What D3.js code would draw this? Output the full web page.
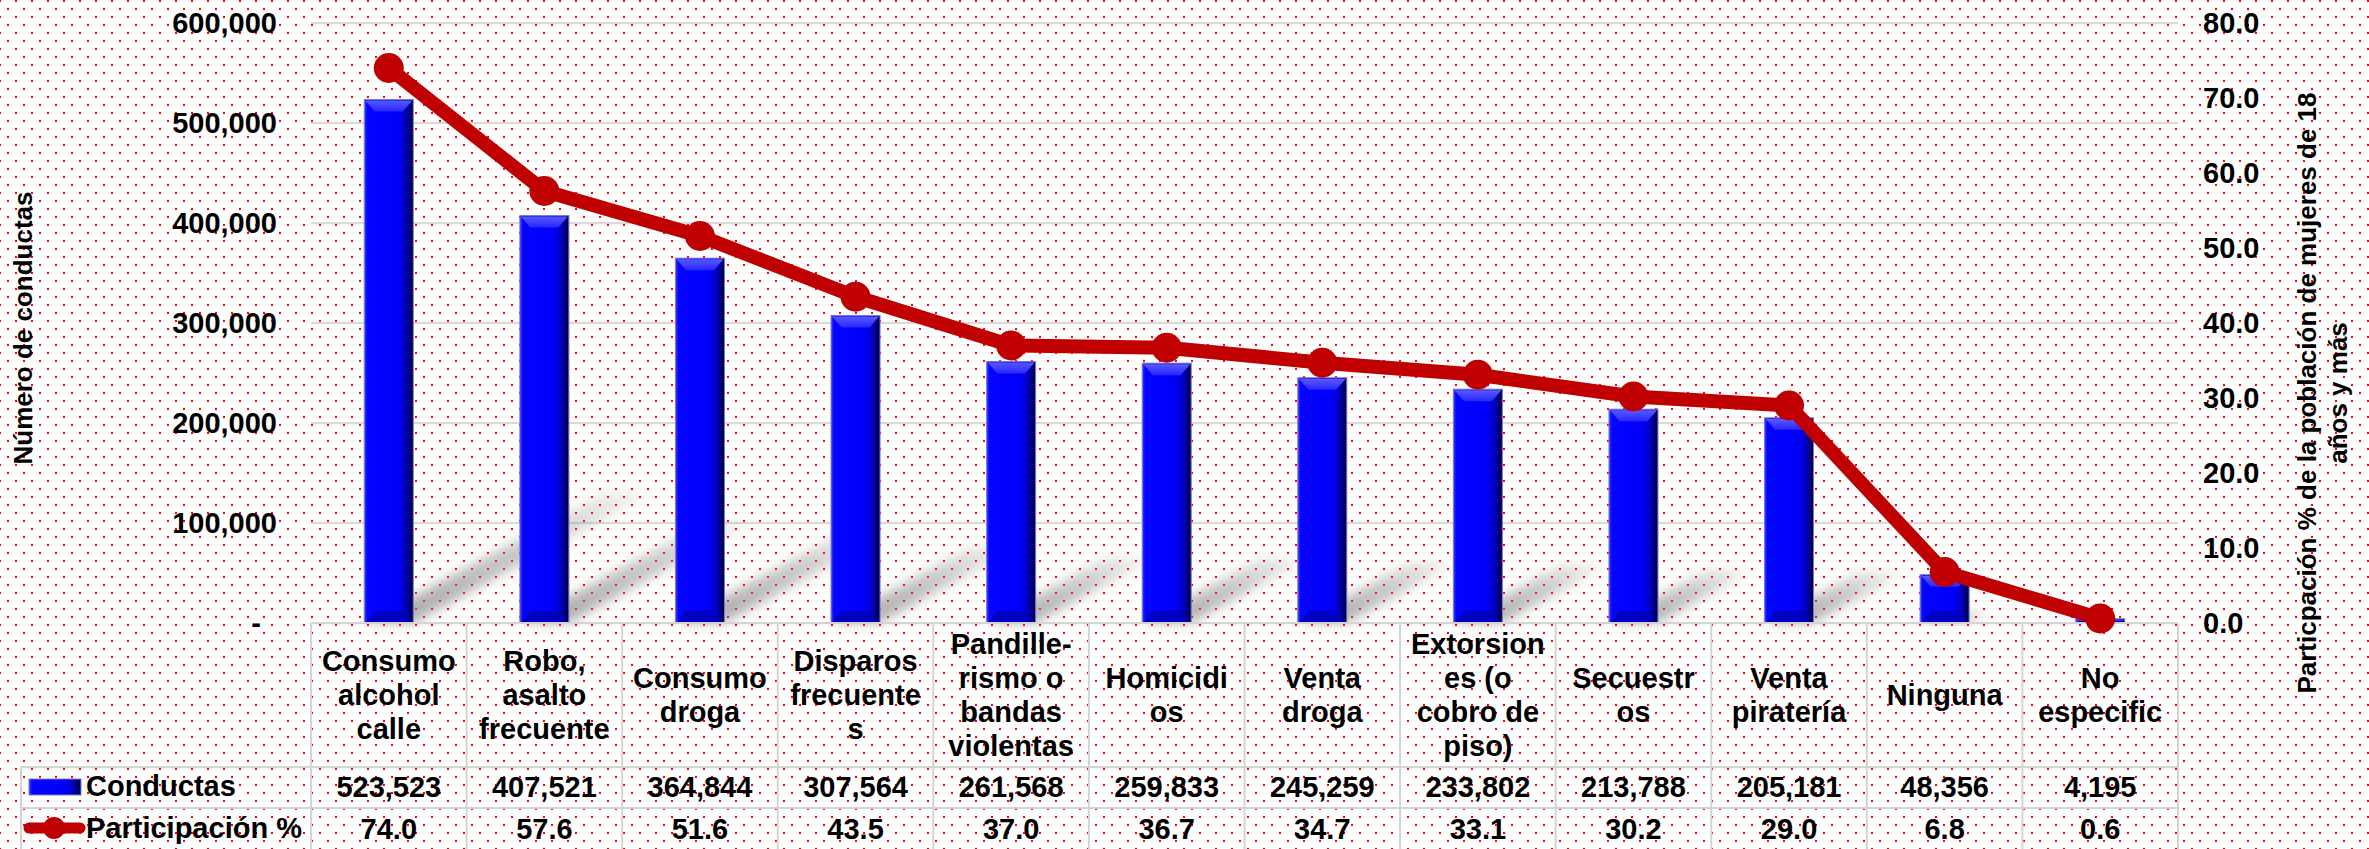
<!DOCTYPE html>
<html>
<head>
<meta charset="utf-8">
<script src="https://cdn.jsdelivr.net/npm/d3@7"></script>
<style>
body { margin:0; background:#fff; }
text { font-family:"Liberation Sans", Arial, sans-serif; font-weight:bold; fill:#000; }
.tick text, .celda, .leyenda { font-size:29px; }
.titulo { font-size:26px; }
</style>
</head>
<body>
<div id="grafica"></div>
<script>
// datos
var categorias = ["Consumo alcohol calle", "Robo, asalto frecuente", "Consumo droga", "Disparos frecuentes",
    "Pandillerismo o bandas violentas", "Homicidios", "Venta droga", "Extorsiones (o cobro de piso)",
    "Secuestros", "Venta piratería", "Ninguna", "No especific"];
// como se parten los textos en la tabla
var etiquetas = [["Consumo","alcohol","calle"], ["Robo,","asalto","frecuente"], ["Consumo","droga"],
    ["Disparos","frecuente","s"], ["Pandille-","rismo o","bandas","violentas"], ["Homicidi","os"],
    ["Venta","droga"], ["Extorsion","es (o","cobro de","piso)"], ["Secuestr","os"],
    ["Venta","piratería"], ["Ninguna"], ["No","especific"]];
var conductas = [523523, 407521, 364844, 307564, 261568, 259833, 245259, 233802, 213788, 205181, 48356, 4195];
var participacion = [74.0, 57.6, 51.6, 43.5, 37.0, 36.7, 34.7, 33.1, 30.2, 29.0, 6.8, 0.6];
var ticksIzq = [0, 100000, 200000, 300000, 400000, 500000, 600000];
var ticksDer = [0, 10, 20, 30, 40, 50, 60, 70, 80];

var W = 2369, H = 849;
var izq = 311, der = 2178, arriba = 23, base = 623;
var fila1 = 767, fila2 = 808, fondo = 850;

var svg = d3.select("#grafica").append("svg")
    .attr("width", W).attr("height", H);

var defs = svg.append("defs");

var pat = defs.append("pattern")
    .attr("id", "puntos").attr("patternUnits", "userSpaceOnUse")
    .attr("width", 16).attr("height", 16).attr("x", 7).attr("y", 8);
pat.append("rect").attr("x", 0).attr("y", 0).attr("width", 2).attr("height", 2).attr("fill", "#ff0000");
pat.append("rect").attr("x", 8).attr("y", 8).attr("width", 2).attr("height", 2).attr("fill", "#ff0000");

var gb = defs.append("linearGradient").attr("id", "gradBarra")
    .attr("x1", 0).attr("x2", 1).attr("y1", 0).attr("y2", 0);
gb.append("stop").attr("offset", "0%").attr("stop-color", "#3b3bff");
gb.append("stop").attr("offset", "6%").attr("stop-color", "#0505ff");
gb.append("stop").attr("offset", "68%").attr("stop-color", "#0000fa");
gb.append("stop").attr("offset", "84%").attr("stop-color", "#0000c0");
gb.append("stop").attr("offset", "100%").attr("stop-color", "#00003a");

var gt = defs.append("linearGradient").attr("id", "gradTapa")
    .attr("x1", 0).attr("x2", 0).attr("y1", 0).attr("y2", 1);
gt.append("stop").attr("offset", "0%").attr("stop-color", "#5a5aff");
gt.append("stop").attr("offset", "100%").attr("stop-color", "#2626ff");

var gs = defs.append("linearGradient").attr("id", "gradSombra")
    .attr("x1", 0).attr("x2", 1).attr("y1", 1).attr("y2", 0);
gs.append("stop").attr("offset", "0%").attr("stop-color", "#808080").attr("stop-opacity", 0.7);
gs.append("stop").attr("offset", "60%").attr("stop-color", "#808080").attr("stop-opacity", 0.4);
gs.append("stop").attr("offset", "100%").attr("stop-color", "#808080").attr("stop-opacity", 0.08);

defs.append("filter").attr("id", "desenfoque")
    .attr("x", "-20%").attr("y", "-20%").attr("width", "140%").attr("height", "140%")
    .append("feGaussianBlur").attr("stdDeviation", 6);

svg.append("rect").attr("width", W).attr("height", H).attr("fill", "#fff");
svg.append("rect").attr("width", W).attr("height", H).attr("fill", "url(#puntos)");

var x = d3.scaleBand().domain(d3.range(categorias.length)).range([izq, der]).padding(0);
var y = d3.scaleLinear().domain([0, 600000]).range([base, arriba]);
var y2 = d3.scaleLinear().domain([0, 80]).range([base, arriba]);
var bw = x.bandwidth();
var anchoBarra = bw * 0.315;

// lineas de cuadricula
svg.selectAll(".rejilla")
    .data(ticksIzq.filter(function(d){ return d > 0; }))
    .enter().append("line")
        .attr("x1", izq).attr("x2", der)
        .attr("y1", function(d){ return y(d); })
        .attr("y2", function(d){ return y(d); })
        .attr("stroke", "#d9d9d9").attr("stroke-width", 2);

// ejes
var ejeIzq = svg.append("g")
    .attr("transform", "translate(" + izq + ",0)")
    .call(d3.axisLeft(y).tickValues(ticksIzq).tickSize(0).tickPadding(34)
        .tickFormat(function(d){ return d === 0 ? "-" : d3.format(",")(d); }));
ejeIzq.select(".domain").remove();
ejeIzq.selectAll(".tick text").filter(function(d){ return d === 0; }).attr("dx", -16);

var ejeDer = svg.append("g")
    .attr("transform", "translate(" + der + ",0)")
    .call(d3.axisRight(y2).tickValues(ticksDer).tickSize(0).tickPadding(25)
        .tickFormat(d3.format(".1f")));
ejeDer.select(".domain").remove();

svg.selectAll(".tick text").attr("font-size", null).attr("font-family", null);

// titulos de ejes
svg.append("text").attr("class", "titulo")
    .attr("transform", "translate(32,328) rotate(-90)")
    .attr("text-anchor", "middle")
    .text("Número de conductas");

var tDer = svg.append("text").attr("class", "titulo")
    .attr("transform", "translate(2307,393) rotate(-90)")
    .attr("text-anchor", "middle");
tDer.append("tspan").attr("x", 0).attr("y", 9).text("Particpación % de la población de mujeres de 18");
tDer.append("tspan").attr("x", 0).attr("y", 40).text("años y más");

// sombras de las barras
svg.selectAll(".sombra")
    .data(conductas)
    .enter().append("polygon")
        .attr("fill", "url(#gradSombra)")
        .attr("filter", "url(#desenfoque)")
        .attr("points", function(d, i){
            var x0 = x(i) + (bw - anchoBarra) / 2, x1 = x0 + anchoBarra;
            var h = base - y(d);
            var dx = h * 0.46, dy = h * 0.25;
            return [[x0, base], [x1, base], [x1 + dx, base - dy], [x0 + dx, base - dy]].join(" ");
        });

// barras
var barras = svg.selectAll(".barra")
    .data(conductas)
    .enter().append("g")
        .attr("class", "barra");

barras.append("rect")
    .attr("x", function(d, i){ return x(i) + (bw - anchoBarra) / 2; })
    .attr("y", function(d){ return y(d); })
    .attr("width", anchoBarra)
    .attr("height", function(d){ return base - y(d); })
    .attr("fill", "url(#gradBarra)")
    .attr("stroke", "#7a7ad8").attr("stroke-width", 1);

barras.append("polygon")
    .attr("fill", "url(#gradTapa)")
    .attr("points", function(d, i){
        var x0 = x(i) + (bw - anchoBarra) / 2, x1 = x0 + anchoBarra, t = y(d);
        var b = Math.min(12, (base - t) / 2);
        return [[x0 + 1, t + 1], [x1 - 1, t + 1], [x1 - 1 - b * 0.8, t + b], [x0 + 1 + b * 0.8, t + b]].join(" ");
    });

barras.append("polygon")
    .attr("fill", "#0000b4").attr("opacity", 0.8)
    .attr("points", function(d, i){
        var x0 = x(i) + (bw - anchoBarra) / 2, x1 = x0 + anchoBarra, t = y(d);
        var b = Math.min(12, (base - t) / 2);
        return [[x0 + 1, base], [x1 - 1, base], [x1 - 1 - b * 0.8, base - b], [x0 + 1 + b * 0.8, base - b]].join(" ");
    });

// tabla de datos
var tabla = svg.append("g").attr("stroke", "#d4d4d4").attr("stroke-width", 2);
tabla.append("line").attr("x1", izq).attr("x2", der).attr("y1", base).attr("y2", base);
tabla.append("line").attr("x1", 21).attr("x2", der).attr("y1", fila1).attr("y2", fila1);
tabla.append("line").attr("x1", 21).attr("x2", der).attr("y1", fila2).attr("y2", fila2);
tabla.append("line").attr("x1", 21).attr("x2", 21).attr("y1", fila1).attr("y2", fondo);
tabla.selectAll(".col")
    .data(d3.range(categorias.length + 1))
    .enter().append("line")
        .attr("x1", function(i){ return i < categorias.length ? x(i) : der; })
        .attr("x2", function(i){ return i < categorias.length ? x(i) : der; })
        .attr("y1", base).attr("y2", fondo);

var cat = svg.selectAll(".cat")
    .data(etiquetas)
    .enter().append("text")
        .attr("class", "celda")
        .attr("text-anchor", "middle");
cat.each(function(lineas, i){
    var t = d3.select(this);
    var y0 = 695 - (lineas.length - 1) * 34 / 2 + 10;
    lineas.forEach(function(l, k){
        t.append("tspan").attr("x", x(i) + bw / 2).attr("y", y0 + k * 34).text(l);
    });
});

svg.selectAll(".valC")
    .data(conductas)
    .enter().append("text")
        .attr("class", "celda")
        .attr("text-anchor", "middle")
        .attr("x", function(d, i){ return x(i) + bw / 2; })
        .attr("y", 797)
        .text(function(d){ return d3.format(",")(d); });

svg.selectAll(".valP")
    .data(participacion)
    .enter().append("text")
        .attr("class", "celda")
        .attr("text-anchor", "middle")
        .attr("x", function(d, i){ return x(i) + bw / 2; })
        .attr("y", 839)
        .text(function(d){ return d3.format(".1f")(d); });

// leyenda
svg.append("rect")
    .attr("x", 29).attr("y", 779).attr("width", 52).attr("height", 16)
    .attr("fill", "url(#gradBarra)").attr("stroke", "#7a7ad8").attr("stroke-width", 1);
svg.append("text").attr("class", "leyenda").attr("x", 86).attr("y", 796).text("Conductas");
svg.append("line")
    .attr("x1", 29).attr("x2", 80).attr("y1", 828).attr("y2", 828)
    .attr("stroke", "#c00000").attr("stroke-width", 11).attr("stroke-linecap", "round");
svg.append("circle").attr("cx", 54).attr("cy", 828).attr("r", 11).attr("fill", "#c00000");
svg.append("text").attr("class", "leyenda").attr("x", 86).attr("y", 838).text("Participación %");

// linea de participacion
var linea = d3.line()
    .x(function(d, i){ return x(i) + bw / 2; })
    .y(function(d){ return y2(d); });

svg.append("path")
    .datum(participacion)
    .attr("d", linea)
    .attr("fill", "none")
    .attr("stroke", "#c00000")
    .attr("stroke-width", 14)
    .attr("stroke-linejoin", "round");

svg.selectAll(".punto")
    .data(participacion)
    .enter().append("circle")
        .attr("cx", function(d, i){ return x(i) + bw / 2; })
        .attr("cy", function(d){ return y2(d); })
        .attr("r", 15)
        .attr("fill", "#c00000");
</script>
</body>
</html>
